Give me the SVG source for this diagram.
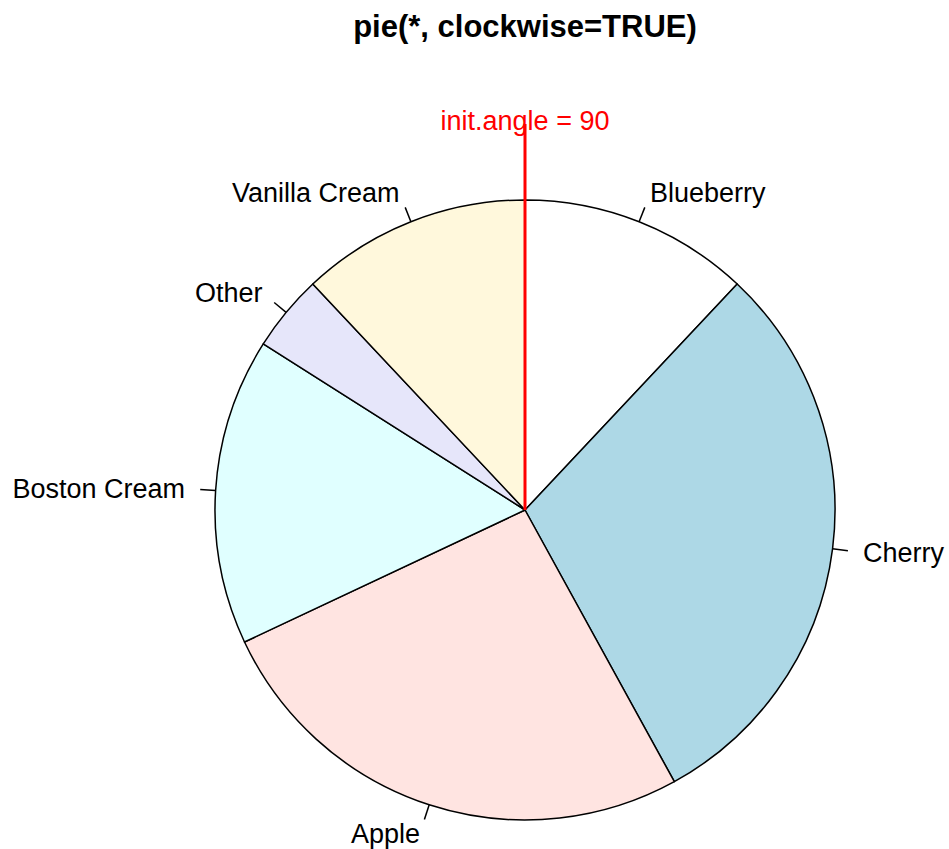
<svg xmlns="http://www.w3.org/2000/svg" width="949" height="849" viewBox="0 0 949 849">
<style>
.slice{stroke:#000;stroke-width:1.5;stroke-linejoin:round}
.tick{stroke:#000;stroke-width:1.5}
.lbl{font-family:"Liberation Sans",Arial,sans-serif;font-size:27px;fill:#000}
.title{font-family:"Liberation Sans",Arial,sans-serif;font-size:31px;font-weight:bold;fill:#000}
</style>
<rect width="949" height="849" fill="#fff"/>
<text class="title" x="525" y="37" text-anchor="middle">pie(*, clockwise=TRUE)</text>
<g id="blueberry">
<path class="slice" fill="#FFFFFF" d="M525,510 L525,200 A310,310 0 0 1 737.21,284.02 Z"/>
<line class="tick" x1="639.1" y1="221.8" x2="644.8" y2="207.4"/>
<text class="lbl" x="650" y="202">Blueberry</text>
</g>
<g id="cherry">
<path class="slice" fill="#ADD8E6" d="M525,510 L737.21,284.02 A310,310 0 0 1 674.34,781.66 Z"/>
<line class="tick" x1="832.5" y1="548.8" x2="847.9" y2="550.8"/>
<text class="lbl" x="863" y="561.5">Cherry</text>
</g>
<g id="apple">
<path class="slice" fill="#FFE4E1" d="M525,510 L674.34,781.66 A310,310 0 0 1 244.5,641.99 Z"/>
<line class="tick" x1="429.2" y1="804.8" x2="424.4" y2="819.6"/>
<text class="lbl" x="420" y="843" text-anchor="end">Apple</text>
</g>
<g id="boston-cream">
<path class="slice" fill="#E0FFFF" d="M525,510 L244.5,641.99 A310,310 0 0 1 263.26,343.89 Z"/>
<line class="tick" x1="215.6" y1="490.5" x2="200.2" y2="489.6"/>
<text class="lbl" x="185" y="498" text-anchor="end">Boston Cream</text>
</g>
<g id="other">
<path class="slice" fill="#E6E6FA" d="M525,510 L263.26,343.89 A310,310 0 0 1 312.79,284.02 Z"/>
<line class="tick" x1="286.1" y1="312.4" x2="274.2" y2="302.5"/>
<text class="lbl" x="262.5" y="302" text-anchor="end">Other</text>
</g>
<g id="vanilla-cream">
<path class="slice" fill="#FFF8DC" d="M525,510 L312.79,284.02 A310,310 0 0 1 525,200 Z"/>
<line class="tick" x1="410.9" y1="221.8" x2="405.2" y2="207.4"/>
<text class="lbl" x="399.5" y="202" text-anchor="end">Vanilla Cream</text>
</g>
<g id="connectors">
<line x1="525" y1="510" x2="525" y2="124" stroke="#FF0000" stroke-width="3"/>
</g>
<g id="init-angle">
<text class="lbl" x="525" y="130" text-anchor="middle" style="fill:#FF0000">init.angle = 90</text>
</g>
</svg>
